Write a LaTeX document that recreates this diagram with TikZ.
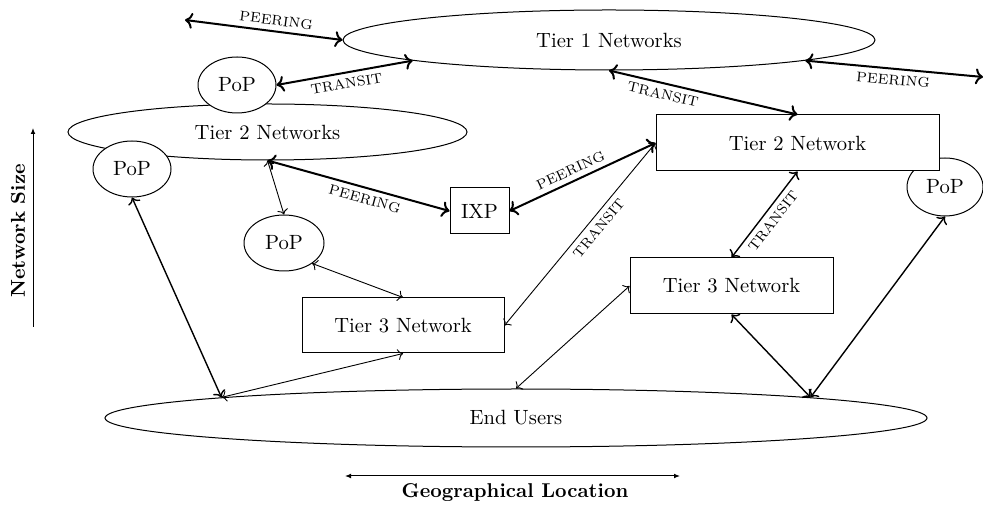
\documentclass[tikz,border=0pt]{standalone}
\usetikzlibrary{shapes.geometric,arrows.meta}
\begin{document}
\begin{tikzpicture}[x=0.5pt,y=-0.5pt,font=\fontsize{10.3}{12}\selectfont]
\tikzset{
  oval/.style={ellipse,draw,line width=0.5pt,fill=white,inner sep=0pt},
  box/.style={rectangle,draw,line width=0.5pt,fill=white,inner sep=0pt},
  lnk/.style={<->,line width=0.45pt},
  midlnk/.style={<->,line width=0.7pt},
  major/.style={<->,line width=1pt},
  tag/.style={font=\scriptsize,sloped,inner sep=2.5pt},
  axis/.style={line width=0.5pt}
}
\useasboundingbox (0,0) rectangle (983,506);

% networks
\node[oval,minimum width=266pt,minimum height=30pt] (t1) at (609,40) {Tier 1 Networks};
\node[oval,minimum width=199.5pt,minimum height=28pt] (t2l) at (267.5,132) {Tier 2 Networks};
\node[oval,minimum width=39pt,minimum height=28pt] (pop1) at (237,85) {PoP};
\node[oval,minimum width=39pt,minimum height=28pt] (pop2) at (132,169) {PoP};
\node[oval,minimum width=40pt,minimum height=28pt] (pop3) at (284,243) {PoP};
\node[oval,minimum width=38pt,minimum height=29pt] (pop4) at (945,187) {PoP};
\node[box,minimum width=141.5pt,minimum height=28pt] (t2r) at (797.5,143) {Tier 2 Network};
\node[box,minimum width=29.5pt,minimum height=23pt] (ixp) at (479.5,211) {IXP};
\node[box,minimum width=101.5pt,minimum height=28pt] (t3r) at (731.5,286) {Tier 3 Network};
\node[box,minimum width=101pt,minimum height=27.5pt] (t3l) at (403,325.5) {Tier 3 Network};
\node[oval,minimum width=411pt,minimum height=29pt] (eu) at (516,418) {End Users};

% free ends of the outer peering links
\coordinate (pf1) at (185,20);
\coordinate (pf2) at (983,77);

% links
\draw[major] (pf1) -- node[tag,pos=0.57,above]{PEERING} (t1.west);
\draw[major] (pop1.east) -- node[tag,pos=0.5,below]{TRANSIT} (t1.186);
\draw[major] (t1.354) -- node[tag,pos=0.5,below]{PEERING} (pf2);
\draw[major] (t1.south) -- node[tag,pos=0.3,below]{TRANSIT} (t2r.north);
\draw[major] (t2l.south) -- node[tag,pos=0.55,below]{PEERING} (ixp.west);
\draw[major] (ixp.east) -- node[tag,pos=0.45,above]{PEERING} (t2r.west);
\draw[lnk] (t2l.south) -- (pop3.north);
\draw[lnk] (pop3.-36) -- (t3l.north);
\draw[lnk] (t3l.east) -- node[tag,pos=0.57,below]{TRANSIT} (t2r.west);
\draw[midlnk] (t2r.south) -- node[tag,pos=0.5,below]{TRANSIT} (t3r.north);
\draw[lnk] (eu.north) -- (t3r.west);
\draw[lnk] (eu.176) -- (t3l.south);
\draw[midlnk] (pop2.south) -- (eu.176);
\draw[midlnk] (t3r.south) -- (eu.4);
\draw[midlnk] (eu.4) -- (pop4.south);

% axes
\coordinate (ns0) at (33,327);
\coordinate (ns1) at (33,128);
\draw[axis,-{Latex[length=3pt,width=2.4pt]}] (ns0) -- (ns1);
\node[rotate=90,font=\bfseries] (nslab) at (18,231) {Network Size};
\coordinate (gl0) at (345,476);
\coordinate (gl1) at (680,476);
\draw[axis,{Latex[length=3pt,width=2.4pt]}-{Latex[length=3pt,width=2.4pt]}] (gl0) -- (gl1);
\node[font=\bfseries] (gllab) at (515,493) {Geographical Location};
\end{tikzpicture}
\end{document}
